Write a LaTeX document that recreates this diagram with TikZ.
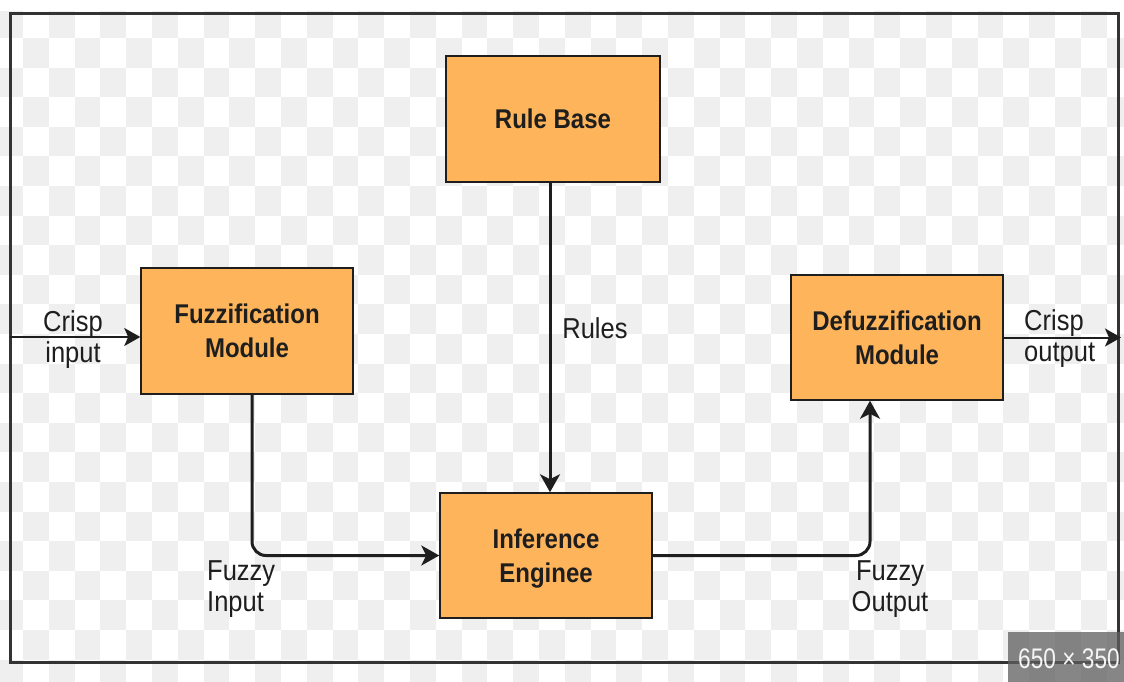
\documentclass[tikz,border=0pt]{standalone}
\usepackage{fontspec}
\setmainfont{Liberation Sans}
\usetikzlibrary{arrows.meta}
\definecolor{boxfill}{HTML}{FDB45B}
\definecolor{ink}{HTML}{1E1E1E}
\definecolor{framecol}{HTML}{333333}
\definecolor{checker}{HTML}{EFEFEF}
\definecolor{badgecol}{HTML}{5E5E5E}

% text block, slightly taller than wide, set a little below the node centre
\newcommand\tallblock[2]{\raisebox{-3pt}[\height][\depth]{\scalebox{1}[1.13]{\begin{tabular}{@{}#1@{}}#2\end{tabular}}}}

\begin{document}
\begin{tikzpicture}[x=1pt,y=-1pt,
  module/.style={draw=ink, line width=1.5pt, fill=boxfill, minimum width=212pt,
    minimum height=126pt, inner sep=0pt, text=ink,
    font=\fontsize{24}{30}\selectfont\bfseries},
  flow/.style={draw=ink, line width=3pt, rounded corners=14pt,
    -{Stealth[length=18pt,width=20pt,inset=5pt]}},
  thinflow/.style={flow, line width=2pt,
    -{Stealth[length=16pt,width=18pt,inset=4pt]}},
  lbl/.style={font=\fontsize{25.5}{27.5}\selectfont, text=ink, inner sep=0pt}]

\useasboundingbox (0,0) rectangle (1124,682);

% checkerboard backdrop
\begin{scope}
  \clip (0,12) rectangle (1124,682);
  \foreach \i in {0,...,23} {
    \foreach \k in {0,...,22} {
      \pgfmathsetmacro\xx{-2.8+25.8*(2*\k+mod(\i,2))}
      \pgfmathsetmacro\yy{8.4+29.6*\i}
      \fill[checker] (\xx,\yy) rectangle +(25.8,29.6);
    }
  }
\end{scope}

% outer frame
\draw[framecol, line width=3pt] (10,14) rectangle (1118,662);

% modules
\node[module, minimum width=214pt] (rule)   at (553,119)   {\tallblock{c}{Rule Base}};
\node[module] (fuzz)   at (247,331)   {\tallblock{c}{Fuzzification\\Module}};
\node[module, minimum height=125pt] (inf)    at (546,555.5) {\tallblock{c}{Inference\\Enginee}};
\node[module, minimum height=125pt] (defuzz) at (897,337.5) {\tallblock{c}{Defuzzification\\Module}};

% free ends at the frame
\coordinate (cin)  at (10,337);
\coordinate (cout) at (1121,337.5);

% connectors
\draw[thinflow] (cin) -- (cin -| fuzz.west);
\draw[flow] ([xshift=5pt]fuzz.south) |- (inf.west);
\draw[flow] ([xshift=-3pt]rule.south) -- ([xshift=-3pt]rule.south |- inf.north);
\draw[flow] (inf.east) -| ([xshift=-27pt]defuzz.south);
\draw[thinflow] (defuzz.east) -- (cout);

% connector labels
\node[lbl] (cinl) at (73,338) {\tallblock{c}{Crisp\\input}};
\node[lbl] (rulesl) at (595,329) {\tallblock{c}{Rules}};
\node[lbl, anchor=west] (fil) at (207,587) {\tallblock{l}{Fuzzy\\Input}};
\node[lbl] (fol) at (890,587) {\tallblock{c}{Fuzzy\\Output}};
\node[lbl, anchor=west] (coutl) at (1024,337) {\tallblock{l}{Crisp\\output}};

% size badge
\fill[badgecol, opacity=0.75] (1008,632) rectangle (1124,682);
\node[inner sep=0pt, text=white!92!gray, font=\fontsize{27}{27}\selectfont]
  (badge) at (1069,659) {\scalebox{0.84}[1.05]{650 × 350}};
\end{tikzpicture}
\end{document}
